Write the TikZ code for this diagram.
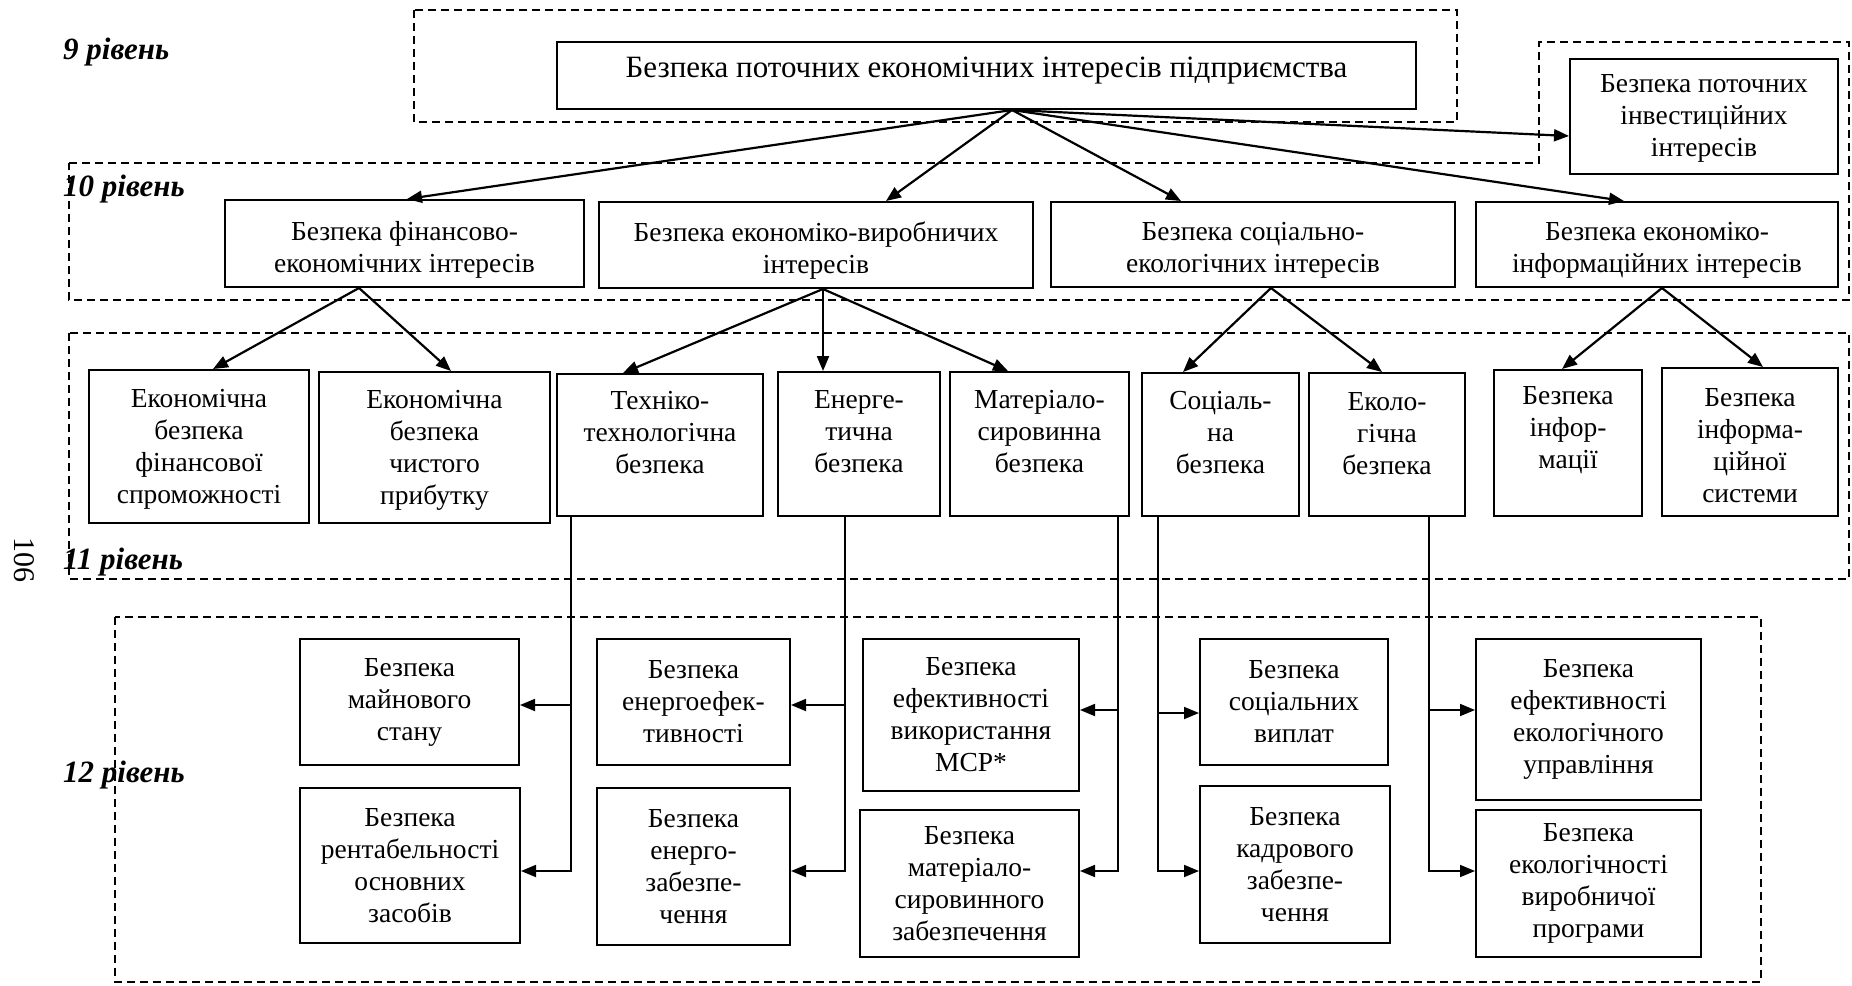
\documentclass[tikz,border=0pt]{standalone}
\usepackage{fontspec}
\setmainfont{Liberation Serif}
\usetikzlibrary{arrows.meta}
\tikzset{
 box/.style={draw, line width=2pt, inner sep=0pt},
 txt/.style={inner sep=0pt, align=center, font=\fontsize{27.5}{32}\selectfont},
 big/.style={font=\fontsize{31}{36}\selectfont},
 arr/.style={line width=2.2pt, -{Triangle[length=15pt,width=12pt]}},
 elb/.style={line width=1.8pt, -{Triangle[length=15pt,width=12pt]}},
 lvl/.style={draw, line width=1.6pt, dash pattern=on 8pt off 5pt},
 lab/.style={font=\fontsize{31}{34}\selectfont\bfseries\itshape, anchor=west, inner sep=0pt},
}
% \bx[text options]{name}{x1}{y1}{x2}{y2}{text}
\newcommand\bx[7][]{%
 \node[box, minimum width={#5-#3}, minimum height={#6-#4}] (#2) at ({(#3+#5)/2},{(#4+#6)/2}) {};
 \node[txt,#1] (#2t) at (#2.center) {#7};}
\begin{document}
\begin{tikzpicture}[x=1pt,y=-1pt]
\useasboundingbox (0,0) rectangle (1852,985);
% level regions
\draw[lvl] (414,10) rectangle (1457,122);
\draw[lvl] (69,163) -- (1539,163) -- (1539,42) -- (1849,42) -- (1849,300) -- (69,300) -- cycle;
\draw[lvl] (69,333) rectangle (1849,579);
\draw[lvl] (115,617) rectangle (1761,982);
% level 9
\bx[big,yshift=5pt]{top}{557}{42}{1416}{109}{Безпека поточних економічних інтересів підприємства}
\bx[yshift=-2pt]{inv}{1570}{59}{1838}{174}{Безпека поточних\\інвестиційних\\інтересів}
% level 10
\bx[yshift=-6pt]{fin}{225}{200}{584}{287}{Безпека фінансово-\\економічних інтересів}
\bx[yshift=-6pt]{ep}{599}{202}{1033}{288}{Безпека економіко-виробничих\\інтересів}
\bx[yshift=-6pt]{se}{1051}{202}{1455}{287}{Безпека соціально-\\екологічних інтересів}
\bx[yshift=-6pt]{ei}{1476}{202}{1838}{287}{Безпека економіко-\\інформаційних інтересів}
% level 11
\bx[yshift=-3pt]{fe1}{89}{370}{309}{523}{Економічна\\безпека\\фінансової\\спроможності}
\bx[yshift=-3pt]{fe2}{319}{372}{550}{523}{Економічна\\безпека\\чистого\\прибутку}
\bx[yshift=12pt]{tech}{557}{374}{763}{516}{Техніко-\\технологічна\\безпека}
\bx[yshift=12pt]{ener}{778}{372}{940}{516}{Енерге-\\тична\\безпека}
\bx[yshift=12pt]{mat}{950}{372}{1129}{516}{Матеріало-\\сировинна\\безпека}
\bx[yshift=11.5pt]{soc}{1142}{373}{1299}{516}{Соціаль-\\на\\безпека}
\bx[yshift=11pt]{eco}{1309}{373}{1465}{516}{Еколо-\\гічна\\безпека}
\bx[yshift=13pt]{info}{1494}{370}{1642}{516}{Безпека\\інфор-\\мації}
\bx[yshift=-4pt]{isys}{1662}{368}{1838}{516}{Безпека\\інформа-\\ційної\\системи}
% level 12
\bx{mayno}{300}{639}{519}{765}{Безпека\\майнового\\стану}
\bx{rent}{300}{788}{520}{943}{Безпека\\рентабельності\\основних\\засобів}
\bx{eneff}{597}{639}{790}{765}{Безпека\\енергоефек-\\тивності}
\bx{enzab}{597}{788}{790}{945}{Безпека\\енерго-\\забезпе-\\чення}
\bx{msr}{863}{639}{1079}{791}{Безпека\\ефективності\\використання\\МСР*}
\bx{matsyr}{860}{810}{1079}{957}{Безпека\\матеріало-\\сировинного\\забезпечення}
\bx{socv}{1200}{639}{1388}{765}{Безпека\\соціальних\\виплат}
\bx{kadr}{1200}{786}{1390}{943}{Безпека\\кадрового\\забезпе-\\чення}
\bx{ekupr}{1476}{639}{1701}{800}{Безпека\\ефективності\\екологічного\\управління}
\bx{ekvyr}{1476}{810}{1701}{957}{Безпека\\екологічності\\виробничої\\програми}
% connectors 9 -> 10
\coordinate (o) at ([xshift=25.5pt]top.south);
\draw[arr] (o) -- ([xshift=2.5pt]fin.north);
\draw[arr] (o) -- ([xshift=70pt]ep.north);
\draw[arr] (o) -- ([xshift=-72pt]se.north);
\draw[arr] (o) -- ([xshift=-33pt]ei.north);
\draw[arr] (o) -- ([yshift=-19.5pt]inv.west);
% 10 -> 11
\draw[arr] ([xshift=-45.5pt]fin.south) -- ([xshift=14pt]fe1.north);
\draw[arr] ([xshift=-45.5pt]fin.south) -- ([xshift=16.5pt]fe2.north);
\draw[arr] ([xshift=7pt]ep.south) -- ([xshift=-37pt]tech.north);
\draw[arr] ([xshift=7pt]ep.south) -- ([xshift=-36pt]ener.north);
\draw[arr] ([xshift=7pt]ep.south) -- ([xshift=-31.5pt]mat.north);
\draw[arr] ([xshift=18pt]se.south) -- ([xshift=-37.5pt]soc.north);
\draw[arr] ([xshift=18pt]se.south) -- ([xshift=-5pt]eco.north);
\draw[arr] ([xshift=5pt]ei.south) -- ([xshift=-6pt]info.north);
\draw[arr] ([xshift=5pt]ei.south) -- ([xshift=13pt]isys.north);
% 11 -> 12
\draw[elb] ([xshift=-89pt]tech.south) |- ([yshift=-3pt]mayno.east);
\draw[elb] ([xshift=-89pt]tech.south) |- ([yshift=-5.5pt]rent.east);
\draw[elb] ([xshift=-14pt]ener.south) |- ([yshift=-3pt]eneff.east);
\draw[elb] ([xshift=-14pt]ener.south) |- ([yshift=-4.5pt]enzab.east);
\draw[elb] ([xshift=78.5pt]mat.south) |- ([yshift=5pt]msr.east);
\draw[elb] ([xshift=78.5pt]mat.south) |- ([yshift=12.5pt]matsyr.east);
\draw[elb] ([xshift=-62.5pt]soc.south) |- ([yshift=-11pt]socv.west);
\draw[elb] ([xshift=-62.5pt]soc.south) |- ([yshift=-6.5pt]kadr.west);
\draw[elb] ([xshift=42pt]eco.south) |- ([yshift=9.5pt]ekupr.west);
\draw[elb] ([xshift=42pt]eco.south) |- ([yshift=12.5pt]ekvyr.west);
% labels
\node[lab] (l9) at (63,52) {9 рівень};
\node[lab] (l10) at (63,189) {10 рівень};
\node[lab] (l11) at (63,562) {11 рівень};
\node[lab] (l12) at (63,775) {12 рівень};
\node[font=\fontsize{30}{34}\selectfont, rotate=-90, inner sep=0pt] (pg) at (24,560) {106};
\end{tikzpicture}
\end{document}
